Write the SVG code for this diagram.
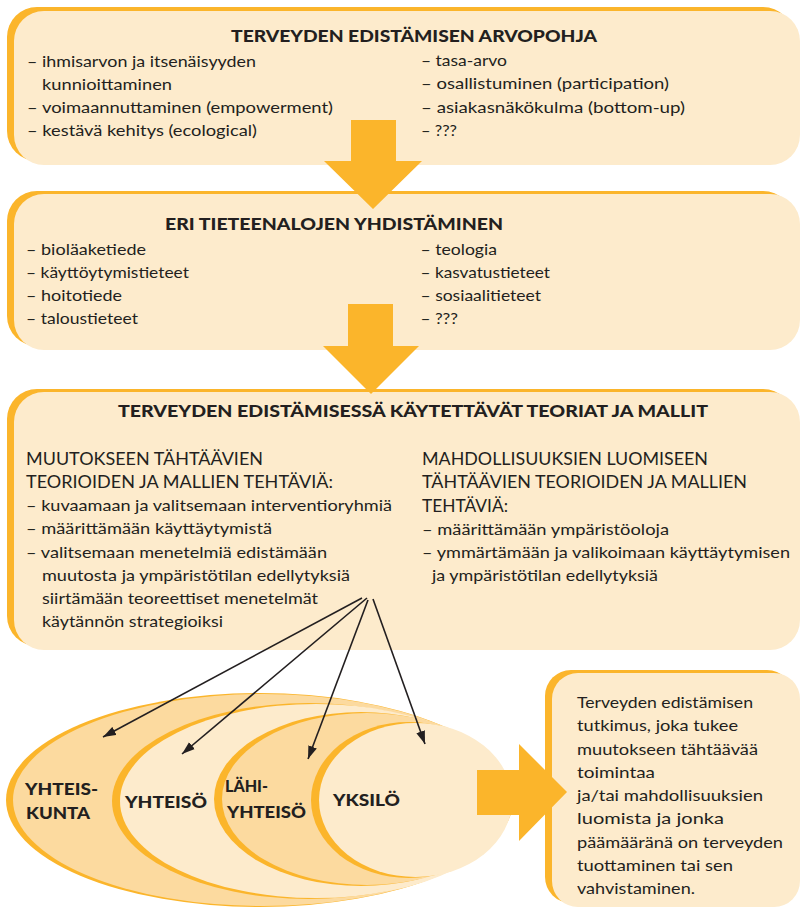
<svg xmlns="http://www.w3.org/2000/svg" width="801" height="910" viewBox="0 0 801 910">
<defs>
<style>
.rim{fill:#FBB52B}
.fill{fill:#FDEBCC}
.dark{fill:#FCDA9F}
.t{font-family:Lato,"Open Sans","DejaVu Sans",sans-serif;font-weight:900;font-size:16px;fill:#231F20}
.b{font-family:Lato,"Open Sans","DejaVu Sans",sans-serif;font-size:16px;fill:#231F20}
.c{font-family:Lato,"Open Sans","DejaVu Sans",sans-serif;font-size:17px;fill:#231F20}
.l{font-family:Lato,"Open Sans","DejaVu Sans",sans-serif;font-weight:900;font-size:16.5px;fill:#231F20}
.blk{fill:#FBB52B}
.ln{stroke:#231F20;stroke-width:1.6;fill:none;marker-end:url(#ah)}
</style>
<marker id="ah" markerUnits="userSpaceOnUse" markerWidth="14" markerHeight="10" refX="13" refY="5" orient="auto">
<path d="M0,0.5 L13,5 L0,9.5 Z" fill="#231F20"/>
</marker>
</defs>
<rect width="801" height="910" fill="#FFFFFF"/>

<g id="box1">
<rect class="rim" x="7" y="7" width="786" height="154" rx="30"/>
<rect class="fill" x="14" y="11" width="786" height="154" rx="30"/>
<text class="t" x="231" y="42" textLength="366" lengthAdjust="spacingAndGlyphs">TERVEYDEN EDISTÄMISEN ARVOPOHJA</text>
<text class="b" x="27" y="67" textLength="229" lengthAdjust="spacingAndGlyphs">– ihmisarvon ja itsenäisyyden</text>
<text class="b" x="42" y="90" textLength="130" lengthAdjust="spacingAndGlyphs">kunnioittaminen</text>
<text class="b" x="27" y="113" textLength="306" lengthAdjust="spacingAndGlyphs">– voimaannuttaminen (empowerment)</text>
<text class="b" x="27" y="136" textLength="230" lengthAdjust="spacingAndGlyphs">– kestävä kehitys (ecological)</text>
<text class="b" x="421" y="66" textLength="86" lengthAdjust="spacingAndGlyphs">– tasa-arvo</text>
<text class="b" x="421" y="89" textLength="248" lengthAdjust="spacingAndGlyphs">– osallistuminen (participation)</text>
<text class="b" x="421" y="113" textLength="264" lengthAdjust="spacingAndGlyphs">– asiakasnäkökulma (bottom-up)</text>
<text class="b" x="421" y="136" textLength="36" lengthAdjust="spacingAndGlyphs">– ???</text>
</g>

<g id="box2">
<rect class="rim" x="7" y="191" width="786" height="155" rx="30"/>
<rect class="fill" x="14" y="194" width="786" height="156" rx="30"/>
<text class="t" x="165" y="230" textLength="338" lengthAdjust="spacingAndGlyphs">ERI TIETEENALOJEN YHDISTÄMINEN</text>
<text class="b" x="26" y="255" textLength="120" lengthAdjust="spacingAndGlyphs">– bioläaketiede</text>
<text class="b" x="26" y="278" textLength="163" lengthAdjust="spacingAndGlyphs">– käyttöytymistieteet</text>
<text class="b" x="26" y="301" textLength="96" lengthAdjust="spacingAndGlyphs">– hoitotiede</text>
<text class="b" x="26" y="324" textLength="112" lengthAdjust="spacingAndGlyphs">– taloustieteet</text>
<text class="b" x="420.5" y="255" textLength="76.5" lengthAdjust="spacingAndGlyphs">– teologia</text>
<text class="b" x="420.5" y="278" textLength="129.5" lengthAdjust="spacingAndGlyphs">– kasvatustieteet</text>
<text class="b" x="420.5" y="301" textLength="120.5" lengthAdjust="spacingAndGlyphs">– sosiaalitieteet</text>
<text class="b" x="420.5" y="324" textLength="37.5" lengthAdjust="spacingAndGlyphs">– ???</text>
</g>

<g id="box3">
<rect class="rim" x="7" y="389" width="786" height="257" rx="30"/>
<rect class="fill" x="14" y="392" width="786" height="258" rx="30"/>
<text class="t" x="118" y="417" textLength="590" lengthAdjust="spacingAndGlyphs">TERVEYDEN EDISTÄMISESSÄ KÄYTETTÄVÄT TEORIAT JA MALLIT</text>
<text class="c" x="26" y="465" textLength="237" lengthAdjust="spacingAndGlyphs">MUUTOKSEEN TÄHTÄÄVIEN</text>
<text class="c" x="26" y="488" textLength="307" lengthAdjust="spacingAndGlyphs">TEORIOIDEN JA MALLIEN TEHTÄVIÄ:</text>
<text class="b" x="26" y="511" textLength="366" lengthAdjust="spacingAndGlyphs">– kuvaamaan ja valitsemaan interventioryhmiä</text>
<text class="b" x="26" y="534" textLength="246" lengthAdjust="spacingAndGlyphs">– määrittämään käyttäytymistä</text>
<text class="b" x="26" y="558" textLength="301" lengthAdjust="spacingAndGlyphs">– valitsemaan menetelmiä edistämään</text>
<text class="b" x="42" y="581" textLength="308" lengthAdjust="spacingAndGlyphs">muutosta ja ympäristötilan edellytyksiä</text>
<text class="b" x="42" y="604" textLength="276" lengthAdjust="spacingAndGlyphs">siirtämään teoreettiset menetelmät</text>
<text class="b" x="42" y="627" textLength="181" lengthAdjust="spacingAndGlyphs">käytännön strategioiksi</text>
<text class="c" x="422" y="465" textLength="286" lengthAdjust="spacingAndGlyphs">MAHDOLLISUUKSIEN LUOMISEEN</text>
<text class="c" x="422" y="488" textLength="325" lengthAdjust="spacingAndGlyphs">TÄHTÄÄVIEN TEORIOIDEN JA MALLIEN</text>
<text class="c" x="422" y="512" textLength="86" lengthAdjust="spacingAndGlyphs">TEHTÄVIÄ:</text>
<text class="b" x="422" y="535" textLength="247" lengthAdjust="spacingAndGlyphs">– määrittämään ympäristöoloja</text>
<text class="b" x="422" y="558" textLength="368" lengthAdjust="spacingAndGlyphs">– ymmärtämään ja valikoimaan käyttäytymisen</text>
<text class="b" x="432" y="581" textLength="226" lengthAdjust="spacingAndGlyphs">ja ympäristötilan edellytyksiä</text>
</g>

<g id="yhteiskunta">
<ellipse class="rim" cx="259.5" cy="800" rx="253.5" ry="107"/>
<ellipse class="dark" cx="263" cy="800" rx="250" ry="106"/>
<text class="l" x="25" y="795" textLength="73" lengthAdjust="spacingAndGlyphs">YHTEIS-</text>
<text class="l" x="26" y="819" textLength="64" lengthAdjust="spacingAndGlyphs">KUNTA</text>
</g>
<g id="yhteiso">
<ellipse class="rim" cx="308.5" cy="801" rx="196.5" ry="98"/>
<ellipse class="fill" cx="316" cy="801" rx="196" ry="97"/>
<text class="l" x="125" y="808" textLength="82" lengthAdjust="spacingAndGlyphs">YHTEISÖ</text>
</g>
<g id="lahiyhteiso">
<ellipse class="rim" cx="361" cy="799" rx="147" ry="87"/>
<ellipse class="dark" cx="367" cy="799" rx="145" ry="86"/>
<text class="l" x="225" y="792" textLength="43" lengthAdjust="spacingAndGlyphs">LÄHI-</text>
<text class="l" x="227" y="818" textLength="79" lengthAdjust="spacingAndGlyphs">YHTEISÖ</text>
</g>
<g id="yksilo">
<ellipse class="rim" cx="408.5" cy="800" rx="97.5" ry="78"/>
<ellipse class="fill" cx="415.5" cy="800" rx="96.5" ry="77"/>
<text class="l" x="333" y="806" textLength="67" lengthAdjust="spacingAndGlyphs">YKSILÖ</text>
</g>

<g id="tutkimus">
<rect class="rim" x="545" y="670" width="248" height="233" rx="26"/>
<rect class="fill" x="552" y="673" width="248" height="234" rx="26"/>
<text class="b" x="577" y="708" textLength="176" lengthAdjust="spacingAndGlyphs">Terveyden edistämisen</text>
<text class="b" x="577" y="731" textLength="161" lengthAdjust="spacingAndGlyphs">tutkimus, joka tukee</text>
<text class="b" x="577" y="755" textLength="181" lengthAdjust="spacingAndGlyphs">muutokseen tähtäävää</text>
<text class="b" x="577" y="778" textLength="78" lengthAdjust="spacingAndGlyphs">toimintaa</text>
<text class="b" x="577" y="801" textLength="186" lengthAdjust="spacingAndGlyphs">ja/tai mahdollisuuksien</text>
<text class="b" x="577" y="824" textLength="147" lengthAdjust="spacingAndGlyphs">luomista ja jonka</text>
<text class="b" x="577" y="848" textLength="206" lengthAdjust="spacingAndGlyphs">päämääränä on terveyden</text>
<text class="b" x="577" y="871" textLength="156" lengthAdjust="spacingAndGlyphs">tuottaminen tai sen</text>
<text class="b" x="577" y="894" textLength="118" lengthAdjust="spacingAndGlyphs">vahvistaminen.</text>
</g>

<g id="connectors">
<polygon class="blk" points="351,120 396,120 396,161 422,161 373,209 324,161 351,161"/>
<polygon class="blk" points="348,304 393,304 393,346 419,346 371,394 323,346 348,346"/>
<polygon class="blk" points="477,770 519,770 519,744 567,792 519,841 519,815 477,815"/>
<line class="ln" x1="362" y1="598" x2="103" y2="737"/>
<line class="ln" x1="367" y1="598" x2="182" y2="754"/>
<line class="ln" x1="368" y1="600" x2="308" y2="759"/>
<line class="ln" x1="373" y1="599" x2="425" y2="744"/>
</g>
</svg>
